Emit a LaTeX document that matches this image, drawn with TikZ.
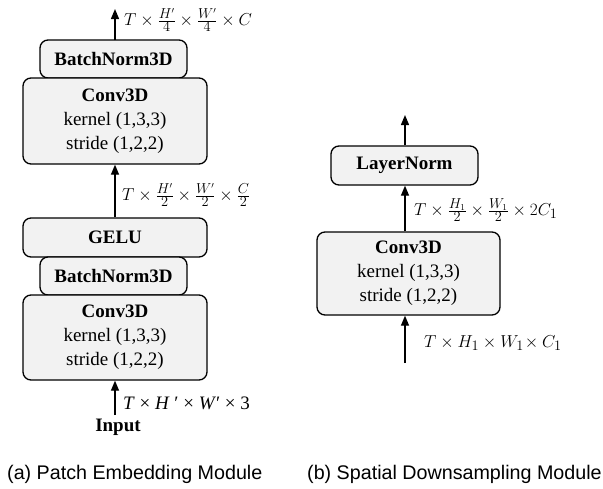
\documentclass[tikz,border=0pt]{standalone}
\usepackage{fontspec}
\setmainfont{Liberation Serif}
\newfontfamily\capfont{Liberation Sans}
\usetikzlibrary{arrows.meta}
\begin{document}
\begin{tikzpicture}[x=1pt,y=-1pt,
  blk/.style={draw=black, line width=1.3pt, rounded corners=8pt, fill=black!5,
    inner sep=0pt, align=center, font=\fontsize{19}{24}\selectfont},
  flow/.style={line width=1.3pt, -{Triangle[length=10pt,width=8pt]}},
  dimlab/.style={anchor=west, inner sep=0pt, font=\fontsize{19}{21}\selectfont},
  caplab/.style={anchor=west, inner sep=0pt, font=\capfont\fontsize{19.7}{24}\selectfont}]
\useasboundingbox (0,0) rectangle (603,488);

% (a) Patch Embedding Module
\node[blk, minimum width=147pt, minimum height=38pt] (bn1) at (113.5,59) {\textbf{BatchNorm3D}};
\node[blk, minimum width=184pt, minimum height=86pt] (conv1) at (115,121)
  {\textbf{Conv3D}\\kernel (1,3,3)\\stride (1,2,2)};
\node[blk, minimum width=184pt, minimum height=39pt] (gelu) at (115,237.5) {\textbf{GELU}};
\node[blk, minimum width=147pt, minimum height=38pt] (bn2) at (113.5,276) {\textbf{BatchNorm3D}};
\node[blk, minimum width=184pt, minimum height=85pt] (conv2) at (115,337.5)
  {\textbf{Conv3D}\\kernel (1,3,3)\\stride (1,2,2)};
\node[inner sep=0pt, anchor=north, font=\fontsize{19}{24}\selectfont\bfseries] (input) at (118,419) {Input};

\coordinate (outa) at (115,9);
\draw[flow] (115,40) -- (outa);
\draw[flow] (gelu.north -| outa) -- (conv1.south -| outa);
\draw[flow] (115,415) -- (conv2.south -| outa);

\node[dimlab] (la1) at (124,20) {$T\times\frac{H'}{4}\times\frac{W'}{4}\times C$};
\node[dimlab] (la2) at (122,195) {$T\times\frac{H'}{2}\times\frac{W'}{2}\times\frac{C}{2}$};
\node[anchor=west, inner sep=0pt, font=\fontsize{19}{22}\selectfont] (la3) at (123,403)
  {\textit{T} × \textit{H} ′ × \textit{W}′ × 3};

% (b) Spatial Downsampling Module
\node[blk, minimum width=147pt, minimum height=39pt] (ln) at (404.5,165.5) {\textbf{LayerNorm}};
\node[blk, minimum width=183pt, minimum height=83pt] (conv3) at (408.5,273.5)
  {\textbf{Conv3D}\\kernel (1,3,3)\\stride (1,2,2)};
\coordinate (outb) at (405,115);
\coordinate (inb) at (405,363);
\draw[flow] (ln.north -| outb) -- (outb);
\draw[flow] (conv3.north -| outb) -- (ln.south -| outb);
\draw[flow] (inb) -- (conv3.south -| outb);

\node[dimlab] (lb1) at (414,210) {$T\times\frac{H_1}{2}\times\frac{W_1}{2}\times 2C_1$};
\node[dimlab] (lb2) at (424,343) {$T\times H_1\times W_1\!\times C_1$};

% captions
\node[caplab] (capa) at (7,474) {(a) Patch Embedding Module};
\node[caplab] (capb) at (307,474) {(b) Spatial Downsampling Module};
\end{tikzpicture}
\end{document}
